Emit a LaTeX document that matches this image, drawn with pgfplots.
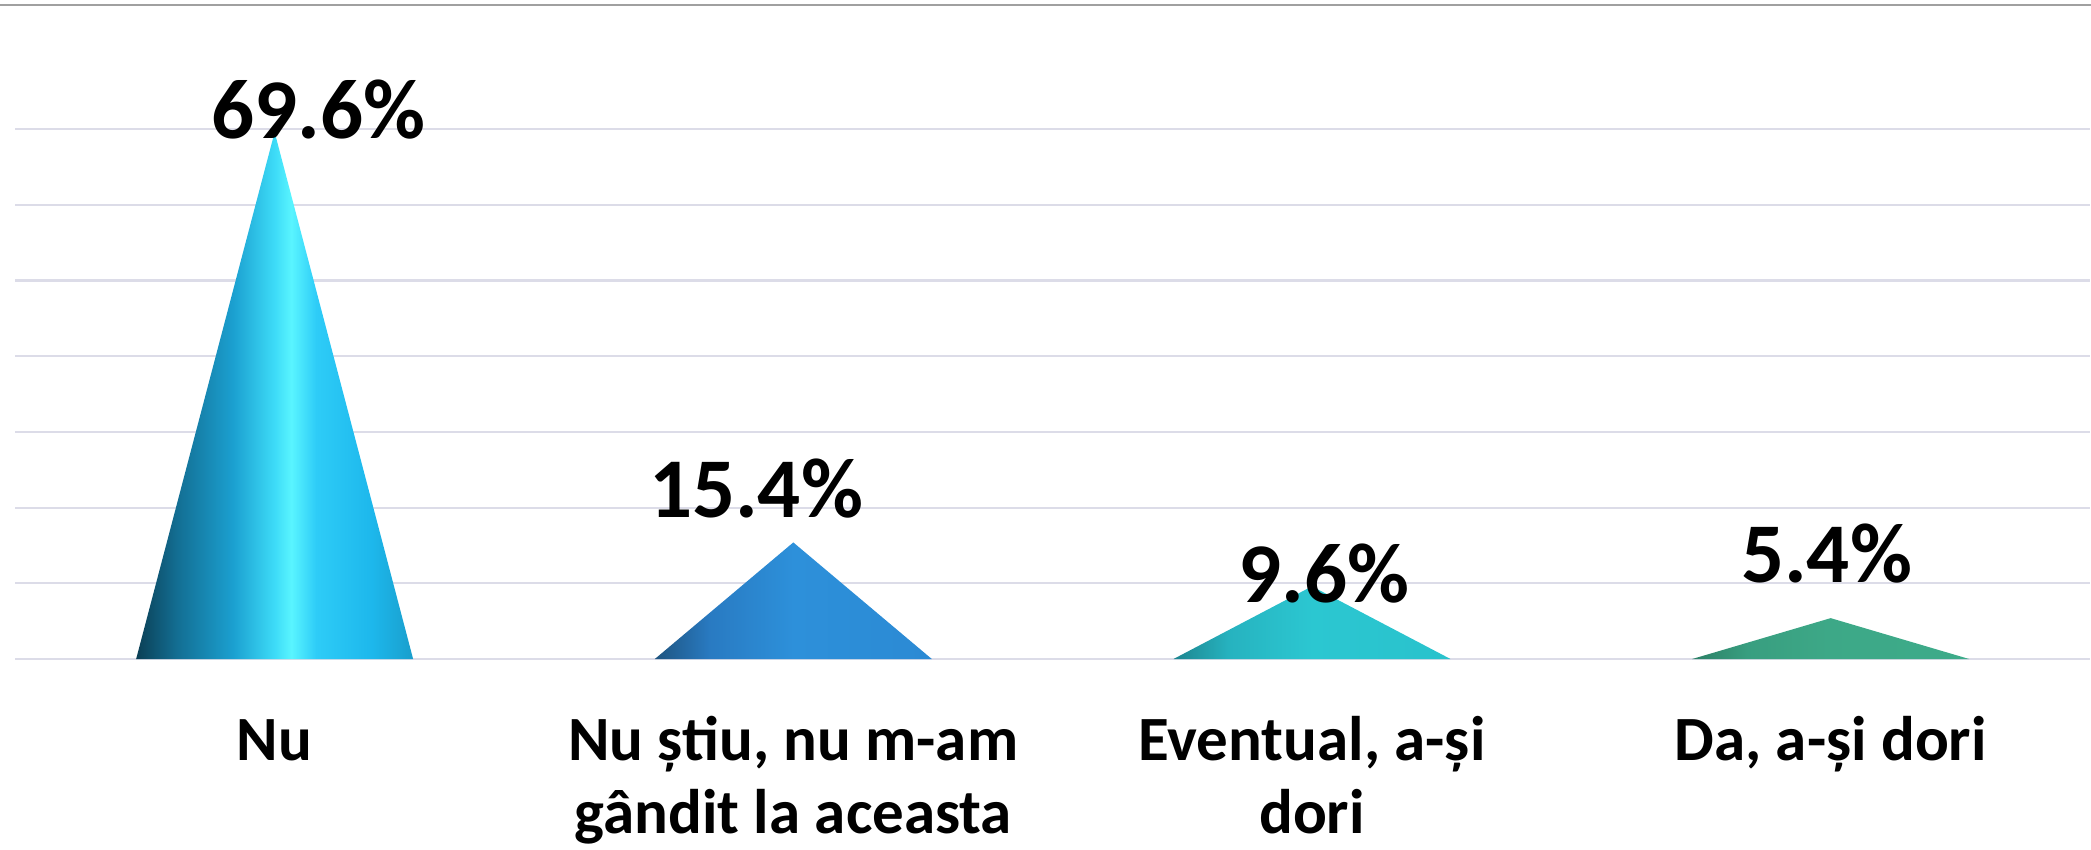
\documentclass[border=0pt]{standalone}
\usepackage{fontspec}
\setmainfont{Carlito}
\usepackage{pgfplots}
\pgfplotsset{compat=1.18}
\usetikzlibrary{calc}

\definecolor{gridc}{HTML}{DCDCE8}
\definecolor{topc}{HTML}{A0A0A0}

\pgfdeclarehorizontalshading{coneA}{100bp}{
 rgb(0bp)=(0.043,0.247,0.333);
 rgb(25bp)=(0.043,0.247,0.333);
 rgb(32.5bp)=(0.075,0.435,0.58);
 rgb(42.5bp)=(0.106,0.627,0.816);
 rgb(50bp)=(0.24,0.86,0.97);
 rgb(53bp)=(0.35,0.96,1.0);
 rgb(57.5bp)=(0.18,0.8,0.97);
 rgb(67.5bp)=(0.114,0.72,0.925);
 rgb(75bp)=(0.10,0.62,0.80);
 rgb(100bp)=(0.10,0.62,0.80)}
\pgfdeclarehorizontalshading{coneB}{100bp}{
 rgb(0bp)=(0.12,0.33,0.50);
 rgb(25bp)=(0.12,0.33,0.50);
 rgb(35bp)=(0.16,0.48,0.76);
 rgb(50bp)=(0.176,0.565,0.855);
 rgb(75bp)=(0.17,0.54,0.83);
 rgb(100bp)=(0.17,0.54,0.83)}
\pgfdeclarehorizontalshading{coneC}{100bp}{
 rgb(0bp)=(0.11,0.52,0.56);
 rgb(25bp)=(0.11,0.52,0.56);
 rgb(35bp)=(0.15,0.70,0.75);
 rgb(50bp)=(0.17,0.78,0.82);
 rgb(75bp)=(0.16,0.76,0.80);
 rgb(100bp)=(0.16,0.76,0.80)}
\pgfdeclarehorizontalshading{coneD}{100bp}{
 rgb(0bp)=(0.17,0.50,0.40);
 rgb(25bp)=(0.17,0.50,0.40);
 rgb(35bp)=(0.22,0.62,0.50);
 rgb(50bp)=(0.24,0.66,0.53);
 rgb(75bp)=(0.24,0.67,0.54);
 rgb(100bp)=(0.24,0.67,0.54)}

\newcommand{\cl}[1]{\begin{tabular}[t]{@{}c@{}}#1\end{tabular}}

\begin{document}
\begin{tikzpicture}
\begin{axis}[
  name=ax,
  at={(0,0)}, anchor=south west,
  scale only axis,
  width=1037.4pt, height=327pt,
  xmin=-0.5, xmax=3.5,
  ymin=0, ymax=86.4,
  axis line style={draw=none},
  tick style={draw=none},
  ytick={0,10,...,70},
  yticklabels={},
  ymajorgrids,
  grid style={gridc, line width=1.1pt},
  xtick={0,1,2,3},
  xticklabels={\cl{Nu}, \cl{Nu știu, nu m-am\\gândit la aceasta}, \cl{Eventual, a-și\\dori}, \cl{Da, a-și dori}},
  xticklabel style={font=\fontsize{31.5}{36.5}\selectfont\bfseries, anchor=base, inner sep=0pt, yshift=-50.5pt},
  clip=false,
]
\addplot[shading=coneA, draw=none] coordinates {(-0.267,0) (0,69.6) (0.267,0)} --cycle;
\addplot[shading=coneB, draw=none] coordinates {(0.733,0) (1,15.4) (1.267,0)} --cycle;
\addplot[shading=coneC, draw=none] coordinates {(1.733,0) (2,9.6) (2.267,0)} --cycle;
\addplot[shading=coneD, draw=none] coordinates {(2.733,0) (3,5.4) (3.267,0)} --cycle;
\tikzset{lbl/.style={anchor=base, font=\fontsize{42.5}{50}\selectfont\bfseries, inner sep=0pt}}
\node[lbl] at (axis cs:0.085,68.8) {69.6\%};
\node[lbl] at (axis cs:0.928,18.76) {15.4\%};
\node[lbl] at (axis cs:2.023,7.53) {9.6\%};
\node[lbl] at (axis cs:2.992,10.17) {5.4\%};
\end{axis}
\draw[topc, line width=1pt] ($(ax.north west)+(-8pt,0)$) -- ($(ax.north east)+(1pt,0)$);
\pgfresetboundingbox
\path[use as bounding box] ($(ax.south west)+(-7.65pt,-95pt)$) rectangle ($(ax.north east)+(0.5pt,2.5pt)$);
\end{tikzpicture}
\end{document}
